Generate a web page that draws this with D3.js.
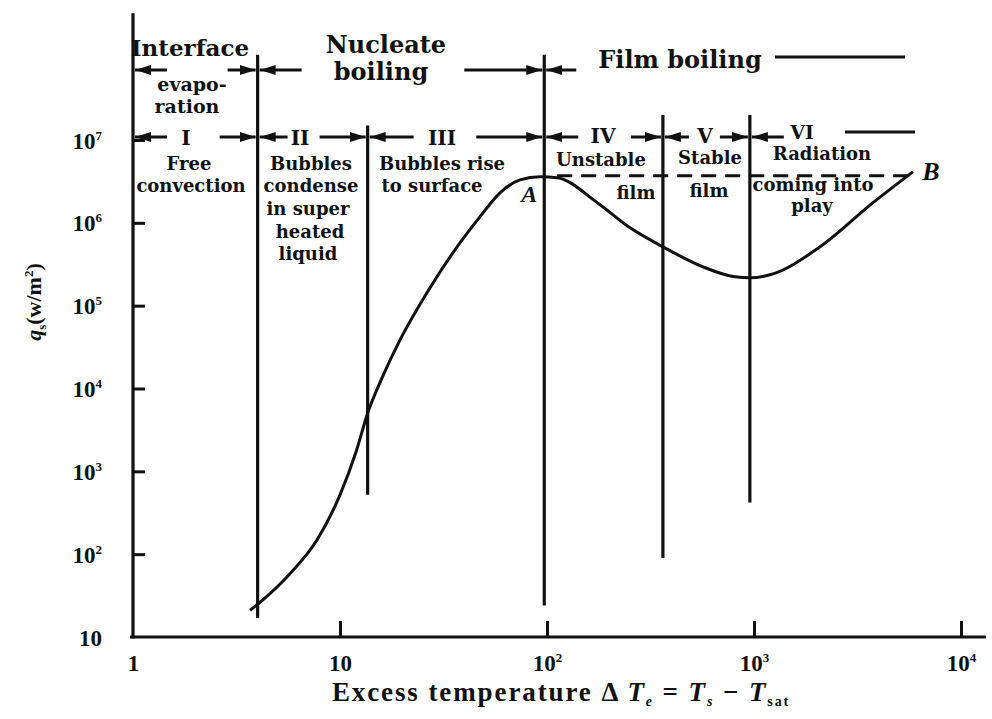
<!DOCTYPE html>
<html><head><meta charset="utf-8">
<script src="https://cdn.jsdelivr.net/npm/d3@7"></script>
<style>
html,body{margin:0;padding:0;background:#fff;}
svg{display:block;}
text{fill:#111;}
</style></head>
<body>
<svg id="chart" width="992" height="719"></svg>
<script>
// ---------- data ----------
const xTicks = [1, 10, 100, 1000, 10000];
const xTickBase = ["1", "10", "10", "10", "10"];
const xTickExp = ["", "", "2", "3", "4"];
const yTicks = [10, 100, 1000, 1e4, 1e5, 1e6, 1e7];
const yTickBase = ["10", "10", "10", "10", "10", "10", "10"];
const yTickExp = ["", "2", "3", "4", "5", "6", "7"];

// boiling curve  (ΔTe, q_s)
const curveX = [3.68, 4.24, 5.73, 7.74, 10.0, 11.95, 13.66, 15.96, 19.5, 26.3, 35.1, 47.4, 59.3, 74.1, 92.5, 112, 175, 252, 363, 567, 809, 957, 1195, 2085, 3758, 5860];
const curveY = [21, 28, 58, 148, 519, 1715, 5210, 13400, 38600, 143000, 435000, 1.18e6, 2.3e6, 3.3e6, 3.6e6, 3.5e6, 1.75e6, 870000, 513000, 294000, 223000, 217000, 236000, 513000, 1.75e6, 4.13e6];

// regime boundaries
const boundaryX = [4, 13.6, 97, 363, 955];
const boundaryTop = [1.07e8, 1.5e7, 1.07e8, 2e7, 2e7];
const boundaryBottom = [17, 520, 24, 90, 420];

// dashed line A -> B
const dashX = [112, 5860];
const dashY = [3.7e6, 3.7e6];

// ---------- scales ----------
const svg = d3.select("#chart");
const x = d3.scaleLog().domain([1, 1e4]).range([133, 961]);
const y = d3.scaleLog().domain([10, 1e7]).range([637, 140]);

const FONT = "'DejaVu Serif', 'Liberation Serif', serif";
const TFONT = "'Liberation Serif', 'DejaVu Serif', serif";

// arrowhead marker
const defs = svg.append("defs");
defs.append("marker").attr("id", "ah")
  .attr("viewBox", "0 0 16 10").attr("refX", 16).attr("refY", 5)
  .attr("markerWidth", 16).attr("markerHeight", 10)
  .attr("markerUnits", "userSpaceOnUse").attr("orient", "auto")
  .append("path").attr("d", "M0,0 L16,5 L0,10 Z").attr("fill", "#111");

// ---------- axes ----------
const xAxis = d3.axisBottom(x).tickValues(xTicks).tickSize(0).tickFormat("");
const gx = svg.append("g").attr("transform", `translate(0,${y(10)})`).call(xAxis);
gx.select(".domain").remove();
gx.append("line").attr("x1", x(1) - 3).attr("x2", x(10 ** 4.12))
  .attr("stroke", "#111").attr("stroke-width", 3.2);
gx.selectAll(".tick").filter(d => d !== 1).append("line").attr("y1", 0).attr("y2", -16)
  .attr("stroke", "#111").attr("stroke-width", 3);
gx.selectAll(".tick").each(function (d, i) {
  const t = d3.select(this).append("text").attr("y", 34)
    .attr("text-anchor", "middle").style("font-family", TFONT).style("font-weight", "bold")
    .style("font-size", "23px");
  t.append("tspan").text(xTickBase[i]);
  if (xTickExp[i]) t.append("tspan").attr("dy", -9).style("font-size", "13px").text(xTickExp[i]);
});

const yAxis = d3.axisLeft(y).tickValues(yTicks).tickSize(0).tickFormat("");
const gy = svg.append("g").attr("transform", `translate(${x(1)},0)`).call(yAxis);
gy.select(".domain").remove();
gy.append("line").attr("y1", y(10) + 1.5).attr("y2", y(10 ** 8.53))
  .attr("stroke", "#111").attr("stroke-width", 3.2);
gy.selectAll(".tick").filter(d => d !== 10).append("line").attr("x1", 0).attr("x2", 12)
  .attr("stroke", "#111").attr("stroke-width", 3);
gy.selectAll(".tick").each(function (d, i) {
  const t = d3.select(this).append("text").attr("x", -31).attr("dy", "0.35em")
    .attr("text-anchor", "end").style("font-family", TFONT).style("font-weight", "bold")
    .style("font-size", "23px");
  t.append("tspan").text(yTickBase[i]);
  if (yTickExp[i]) t.append("tspan").attr("dy", -9).style("font-size", "13px").text(yTickExp[i]);
});

// axis titles
const xt = svg.append("text").attr("x", 561).attr("y", 701).attr("text-anchor", "middle")
  .style("font-family", TFONT).style("font-weight", "bold").style("font-size", "27px")
  .style("letter-spacing", "1.9px");
xt.append("tspan").text("Excess temperature Δ ");
xt.append("tspan").style("font-style", "italic").text("T");
xt.append("tspan").attr("dy", 5).style("font-size", "14px").style("font-style", "italic").text("e");
xt.append("tspan").attr("dy", -5).text(" = ");
xt.append("tspan").style("font-style", "italic").text("T");
xt.append("tspan").attr("dy", 5).style("font-size", "14px").style("font-style", "italic").text("s");
xt.append("tspan").attr("dy", -5).text(" − ");
xt.append("tspan").style("font-style", "italic").text("T");
xt.append("tspan").attr("dy", 5).style("font-size", "14px").text("sat");

const yt = svg.append("text").attr("transform", "translate(41,302) rotate(-90)")
  .attr("text-anchor", "middle").style("font-family", TFONT).style("font-weight", "bold")
  .style("font-size", "22px");
yt.append("tspan").style("font-style", "italic").text("q");
yt.append("tspan").attr("dy", 5).style("font-size", "13px").text("s");
yt.append("tspan").attr("dy", -5).text("(w/m");
yt.append("tspan").attr("dy", -8).style("font-size", "13px").text("2");
yt.append("tspan").attr("dy", 8).text(")");

// ---------- boundaries ----------
svg.append("g").selectAll("line").data(boundaryX).join("line")
  .attr("x1", d => x(d)).attr("x2", d => x(d))
  .attr("y1", (d, i) => y(boundaryTop[i])).attr("y2", (d, i) => y(boundaryBottom[i]))
  .attr("stroke", "#111").attr("stroke-width", 3.2);

// ---------- curve ----------
const pts = curveX.map((v, i) => [x(v), y(curveY[i])]);
svg.append("path").datum(pts)
  .attr("d", d3.line().curve(d3.curveMonotoneX))
  .attr("fill", "none").attr("stroke", "#111").attr("stroke-width", 3);

svg.append("line").attr("x1", x(dashX[0])).attr("x2", x(dashX[1]))
  .attr("y1", y(dashY[0])).attr("y2", y(dashY[1]))
  .attr("stroke", "#111").attr("stroke-width", 3).attr("stroke-dasharray", "15,9");

svg.append("text").attr("x", x(75)).attr("y", y(1.8e6)).style("font-family", TFONT)
  .style("font-style", "italic").style("font-weight", "bold").style("font-size", "24px").text("A");
svg.append("text").attr("x", x(6500)).attr("y", y(3.3e6)).style("font-family", TFONT)
  .style("font-style", "italic").style("font-weight", "bold").style("font-size", "26px").text("B");

// ---------- annotations ----------
function arrow(x1, x2, yy) {
  svg.append("line").attr("x1", x1).attr("x2", x2).attr("y1", yy).attr("y2", yy)
    .attr("stroke", "#111").attr("stroke-width", 3).attr("marker-end", "url(#ah)");
}
function rule(x1, x2, yy) {
  svg.append("line").attr("x1", x1).attr("x2", x2).attr("y1", yy).attr("y2", yy)
    .attr("stroke", "#111").attr("stroke-width", 3);
}
function label(txt, cx, cy, size, anchor) {
  svg.append("text").attr("x", cx).attr("y", cy).attr("text-anchor", anchor || "middle")
    .style("font-family", FONT).style("font-weight", "bold")
    .style("font-size", size + "px").text(txt);
}
const bx = boundaryX.map(d => x(d));
const x0 = x(1);

// row 1
const r1 = 70;
arrow(x0 + 34, x0 + 2, r1); arrow(bx[0] - 30, bx[0] - 2, r1);
arrow(bx[0] + 44, bx[0] + 2, r1); arrow(bx[2] - 80, bx[2] - 2, r1);
arrow(bx[2] + 32, bx[2] + 2, r1);
rule(775, 905, 57);
label("Interface", 190, 56, 23);
label("evapo-", 192, 91, 19);
label("ration", 187, 113, 19);
label("Nucleate", 386, 53, 24);
label("boiling", 381, 80, 24);
label("Film boiling", 680, 68, 24);

// row 2
const r2 = 137;
arrow(x0 + 34, x0 + 2, r2); arrow(bx[0] - 38, bx[0] - 2, r2);
arrow(bx[0] + 30, bx[0] + 2, r2); arrow(bx[1] - 48, bx[1] - 2, r2);
arrow(bx[1] + 46, bx[1] + 2, r2); arrow(bx[2] - 68, bx[2] - 2, r2);
arrow(bx[2] + 34, bx[2] + 2, r2); arrow(bx[3] - 32, bx[3] - 2, r2);
arrow(bx[3] + 26, bx[3] + 2, r2); arrow(bx[4] - 30, bx[4] - 2, r2);
arrow(bx[4] + 34, bx[4] + 2, r2);
rule(845, 915, r2 - 5);
label("I", 186, 145, 20);
label("II", 300, 145, 20);
label("III", 442, 145, 20);
label("IV", 603, 143, 20);
label("V", 705, 143, 20);
label("VI", 802, 139, 19);

label("Free", 189, 170, 18);
label("convection", 191, 192, 18);
label("Bubbles", 311, 170, 18);
label("condense", 311, 192, 18);
label("in super", 308, 215, 18);
label("heated", 310, 238, 18);
label("liquid", 308, 260, 18);
label("Bubbles rise", 442, 170, 18);
label("to surface", 432, 192, 18);
label("Unstable", 601, 166, 18);
label("film", 636, 199, 18);
label("Stable", 710, 164, 18);
label("film", 709, 197, 18);
label("Radiation", 822, 160, 18);
label("coming into", 813, 191, 18);
label("play", 812, 212, 18);
</script>
</body></html>
